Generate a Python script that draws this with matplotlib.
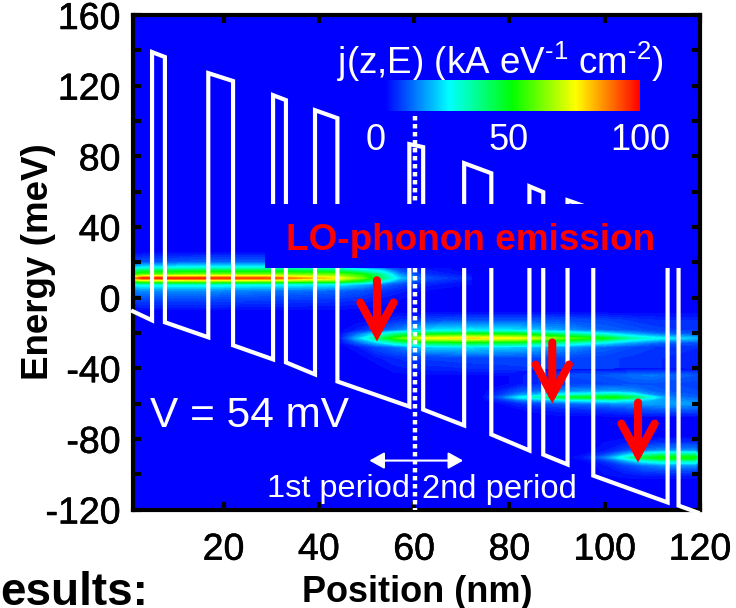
#!/usr/bin/env python3
"""
Current density map j(z,E) with the conduction band profile on top.
"""

import numpy as np
import matplotlib
matplotlib.use("Agg")
import matplotlib.pyplot as plt
import matplotlib.patheffects as pe
from matplotlib.cm import ScalarMappable
from matplotlib.colors import LinearSegmentedColormap, Normalize
from matplotlib.patches import Rectangle

plt.rcParams['font.family'] = ['Liberation Sans', 'DejaVu Sans']
plt.rcParams['mathtext.fontset'] = 'custom'
plt.rcParams['mathtext.rm'] = 'Liberation Sans'
plt.rcParams['mathtext.default'] = 'regular'
plt.rcParams['axes.unicode_minus'] = False

# conduction band profile, position (nm) and energy (meV)
band_z = [1, 5, 5, 7.7, 7.7, 16.8, 16.8, 22, 22, 30.4, 30.4, 33.1, 33.1, 39.2, 39.2,
          43.9, 43.9, 59, 59, 61.9, 61.9, 70.5, 70.5, 76.2, 76.2, 84.2, 84.2, 87.1, 87.1,
          92.2, 92.2, 97.6, 97.6, 113.2, 113.2, 115.5, 115.5, 119.5]
band_e = [-7.8, -12.9, 139, 136.2, -14, -22.5, 127.1, 122.6, -27, -35, 114.6, 111.8, -36.7,
          -43.5, 106.1, 101.6, -47.5, -61.7, 86.9, 85.2, -63.4, -72.4, 76.1, 70.4, -77.5,
          -86.6, 63, 59.7, -88.9, -94.5, 55.1, 50, -100.8, -116, 33.6, 31.3, -117.8, -121.7]

# current density around each subband, rows are energies and columns positions
sub1_z = [1, 3, 15, 30, 44, 49, 53, 57, 62, 72]
sub1_e = [26, 20, 17, 15, 13, 11, 9.5, 7.5, 4, -1, -8]
sub1_j = [[0, 0, 0, 0, 0, 0, 0, 0, 0, 0],
          [6, 8, 10, 10, 10, 8, 4, 2, 1, 0],
          [20, 24, 26, 26, 24, 14, 10, 5, 2, 0],
          [36, 44, 46, 46, 42, 32, 24, 8, 3, 0],
          [50, 58, 62, 62, 60, 52, 36, 14, 5, 1],
          [84, 96, 96, 92, 76, 60, 40, 20, 8, 3],
          [58, 66, 68, 66, 60, 46, 30, 14, 6, 2],
          [24, 28, 28, 26, 24, 18, 12, 7, 3, 1],
          [12, 14, 14, 12, 10, 8, 5, 3, 1, 0],
          [6, 7, 7, 6, 5, 4, 2, 1, 0, 0],
          [0, 0, 0, 0, 0, 0, 0, 0, 0, 0]]

sub2_z = [44, 48, 52, 56, 62, 72, 82, 92, 100, 106, 112, 120]
sub2_e = [-8, -13, -18.5, -20.5, -23, -25.5, -28, -34, -40, -45]
sub2_j = [[0, 0, 0, 0, 0, 0, 0, 0, 0, 0, 0, 0],
          [0, 0, 1, 4, 7, 9, 9, 8, 7, 5, 4, 4],
          [0, 3, 8, 12, 22, 24, 22, 15, 10, 8, 6, 5],
          [0, 10, 22, 34, 44, 48, 46, 34, 24, 16, 10, 8],
          [0, 18, 36, 54, 74, 78, 74, 58, 48, 32, 24, 18],
          [0, 9, 20, 32, 44, 46, 44, 34, 24, 16, 10, 8],
          [0, 2, 7, 11, 20, 22, 20, 15, 10, 7, 5, 4],
          [0, 0, 2, 4, 6, 7, 7, 7, 6, 5, 4, 4],
          [0, 0, 0, 2, 3, 4, 5, 6, 6, 5, 4, 3],
          [0, 0, 0, 0, 0, 0, 0, 0, 0, 0, 0, 0]]

sub3_z = [74, 78, 82, 88, 92, 102, 106, 110, 114, 120]
sub3_e = [-40, -44, -49, -53, -55, -56.5, -58, -60, -63, -68]
sub3_j = [[0, 0, 0, 0, 0, 0, 0, 0, 0, 0],
          [0, 0, 2, 5, 7, 9, 11, 12, 10, 8],
          [0, 0, 2, 5, 6, 7, 8, 8, 7, 6],
          [0, 3, 8, 12, 14, 16, 14, 10, 8, 7],
          [0, 5, 14, 22, 26, 34, 28, 14, 10, 8],
          [0, 9, 24, 36, 46, 50, 42, 26, 12, 9],
          [0, 4, 12, 20, 24, 30, 24, 18, 14, 12],
          [0, 1, 4, 8, 10, 14, 15, 16, 16, 15],
          [0, 0, 1, 3, 4, 6, 8, 9, 10, 9],
          [0, 0, 0, 0, 0, 0, 0, 0, 0, 0]]

sub4_z = [92, 96, 100, 104, 108, 112, 116, 119, 120]
sub4_e = [-78, -82, -86.5, -88.5, -90.6, -92.5, -95, -100, -104]
sub4_j = [[0, 0, 0, 0, 0, 0, 0, 0, 0],
          [0, 0, 1, 2, 3, 4, 4, 4, 2],
          [0, 0, 2, 6, 11, 14, 14, 14, 7],
          [0, 1, 5, 15, 26, 32, 32, 32, 14],
          [0, 3, 12, 28, 44, 52, 52, 52, 20],
          [0, 1, 5, 15, 26, 32, 32, 32, 14],
          [0, 0, 2, 6, 11, 14, 14, 14, 6],
          [0, 0, 1, 2, 3, 3, 3, 3, 1],
          [0, 0, 0, 0, 0, 0, 0, 0, 0]]

# LO-phonon arrows: position, start energy, end energy
arrow_z = [52.2, 89.0, 107.0]
arrow_top = [9.8, -25.4, -59.4]
arrow_tip = [-24.8, -60.0, -93.4]

x_ticks = [20, 40, 60, 80, 100, 120]
y_ticks = [-120, -80, -40, 0, 40, 80, 120, 160]

W, H = 736, 608
fig = plt.figure(figsize=(W / 100, H / 100), dpi=100)
ax = fig.add_axes([133 / W, (H - 509.5) / H, 567 / W, 494.5 / H])

cmap = LinearSegmentedColormap.from_list(
    "j_map", [(0, 0, 1), (0, 1, 1), (0, 1, 0), (1, 1, 0), (1, 0, 0)], N=256)
norm = Normalize(0, 100)
levels = np.linspace(1, 100, 67)

ax.set_facecolor(cmap(0))
for z, e, j in [(sub1_z, sub1_e, sub1_j), (sub2_z, sub2_e, sub2_j),
                (sub3_z, sub3_e, sub3_j), (sub4_z, sub4_e, sub4_j)]:
    ax.contourf(z, e, j, levels=levels, cmap=cmap, norm=norm, antialiased=False, zorder=1)

ax.plot(band_z, band_e, color='white', lw=3.0, solid_joinstyle='miter', clip_on=False, zorder=3)
ax.plot([60.2, 60.2], [103, -121], color='white', lw=3.2, dashes=(1.0, 0.8), zorder=3)

# blue box under the label hides the band profile
ax.add_patch(Rectangle((28.7, 16.6), 87.6, 36.3, facecolor=cmap(0), edgecolor='none', zorder=4))
ax.text(71.8, 32.5, "LO-phonon emission", color='red', fontsize=26.6, fontweight='bold',
        ha='center', va='center', zorder=5)

for z, top, tip in zip(arrow_z, arrow_top, arrow_tip):
    ax.annotate("", xy=(z, tip), xytext=(z, top), zorder=6,
                arrowprops=dict(arrowstyle="->,head_length=22,head_width=12", color='red', lw=5.8,
                                shrinkA=0, shrinkB=0, mutation_scale=1,
                                capstyle='round', joinstyle='miter'))

ax.annotate("", xy=(70.3, -92.3), xytext=(50.6, -92.3), zorder=5,
            arrowprops=dict(arrowstyle="<|-|>,head_length=9,head_width=5", color='white', lw=1.5,
                            shrinkA=0, shrinkB=0, mutation_scale=1))

ax.text(4.6, -66.8, "V = 54 mV", color='white', fontsize=30.5, va='center', zorder=5)
ax.text(29.2, -108.5, "1st period", color='white', fontsize=23.4, va='center', zorder=5)
ax.text(61.7, -108.5, "2nd period", color='white', fontsize=23.6, va='center', zorder=5)

# colour scale
ax.text(78.1, 126.6, r"j(z,E) (kA eV$^{\text{-1}}$ cm$^{\text{-2}}$)", color='white', fontsize=26.5,
        ha='center', va='baseline', zorder=5)
for z, label in zip([52, 79.8, 107.5], ["0", "50", "100"]):
    ax.text(z, 83.5, label, color='white', fontsize=26, ha='center', va='baseline', zorder=5)
cax = fig.add_axes([385 / W, (H - 111) / H, 255 / W, 31 / H])
cbar = fig.colorbar(ScalarMappable(norm=norm, cmap=cmap), cax=cax, orientation='horizontal')
cbar.outline.set_visible(False)
cax.set_xticks([])

ax.set_xlim(1, 120)
ax.set_ylim(-120, 160)
ax.set_xticks(x_ticks)
ax.set_yticks(y_ticks)
ax.set_yticks(np.arange(-100, 160, 40), minor=True)
ax.tick_params(which='both', direction='in', length=6, width=3, top=True, right=True)
ax.tick_params(axis='x', labelsize=27, pad=16)
ax.tick_params(axis='y', labelsize=27, pad=9)
for label in ax.get_xticklabels() + ax.get_yticklabels():
    label.set_path_effects([pe.withStroke(linewidth=0.4, foreground='black')])
for spine in ax.spines.values():
    spine.set_linewidth(3)

fig.text(417 / W, 1 - 592 / H, "Position (nm)", fontsize=26, fontweight='bold', ha='center', va='center')
fig.text(39 / W, 1 - 262 / H, "Energy (meV)", fontsize=26.5, fontweight='bold', rotation=90,
         ha='center', va='center')
fig.text(148 / W, 1 - 605 / H, "esults:", fontsize=33, fontweight='bold', ha='right', va='baseline')

fig.savefig("out.png", dpi=100)
